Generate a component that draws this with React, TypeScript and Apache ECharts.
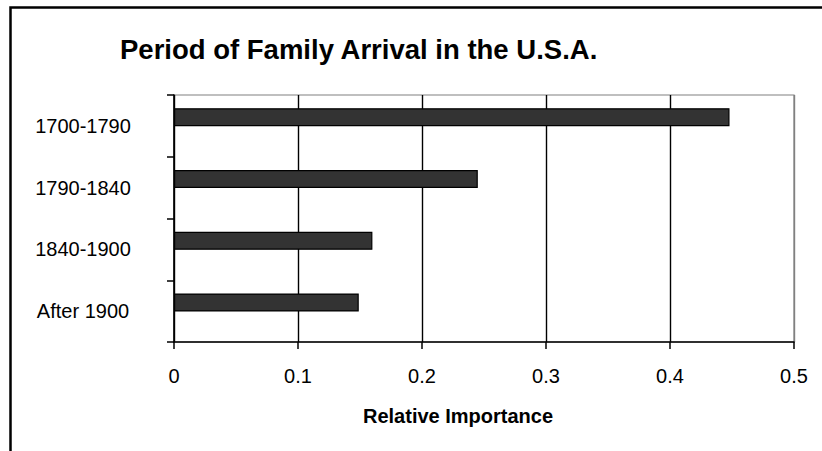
import React, { useEffect, useRef } from "react";
import * as echarts from "echarts";

const categories = ["1700-1790", "1790-1840", "1840-1900", "After 1900"];
const importance = [0.448, 0.245, 0.16, 0.149];
const spacer = ["-", "-", "-", "-"];
const xTicks = { min: 0, max: 0.5, interval: 0.1 };
const titleText = "Period of Family Arrival in the U.S.A.";
const xAxisTitle = "Relative Importance";

const FONT = "'Liberation Sans', Arial, Helvetica, sans-serif";

export default function App() {
  const ref = useRef<HTMLDivElement>(null);
  useEffect(() => {
    if (!ref.current) return;
    const chart = echarts.init(ref.current, null, { renderer: "svg" });
    chart.setOption({
      animation: false,
      backgroundColor: "#ffffff",
      textStyle: { fontFamily: FONT },
      title: {
        text: titleText,
        left: 120,
        top: 35,
        padding: 0,
        textStyle: { fontFamily: FONT, fontSize: 27.5, fontWeight: "bold", color: "#000" },
      },
      graphic: [
        {
          type: "rect",
          shape: { x: 10.5, y: 7.5, width: 900, height: 600 },
          style: { fill: "none", stroke: "#000", lineWidth: 2.5 },
          silent: true,
        },
      ],
      grid: {
        left: 174,
        right: 28,
        top: 95,
        bottom: 109,
        show: true,
        borderColor: "#808080",
        borderWidth: 1.2,
        backgroundColor: "transparent",
      },
      xAxis: {
        type: "value",
        min: xTicks.min,
        max: xTicks.max,
        interval: xTicks.interval,
        name: xAxisTitle,
        nameLocation: "middle",
        nameGap: 64,
        nameTextStyle: {
          fontFamily: FONT,
          fontSize: 20,
          fontWeight: "bold",
          color: "#000",
          padding: [0, 52, 0, 0],
        },
        axisLine: { show: true, lineStyle: { color: "#000", width: 1.5 } },
        axisTick: { show: true, length: 7, lineStyle: { color: "#000", width: 1.5 } },
        axisLabel: {
          fontFamily: FONT,
          fontSize: 20,
          color: "#000",
          margin: 24,
          formatter: (v: number) => String(Math.round(v * 10) / 10),
        },
        splitLine: {
          show: true,
          lineStyle: {
            color: ["#000", "#000", "#000", "#000", "#000", "#808080"],
            width: 1.4,
          },
        },
      },
      yAxis: {
        type: "category",
        data: categories,
        inverse: true,
        axisLine: { show: true, lineStyle: { color: "#000", width: 1.5 } },
        axisTick: { show: true, length: 7, lineStyle: { color: "#000", width: 1.5 } },
        axisLabel: {
          fontFamily: FONT,
          fontSize: 20,
          color: "#000",
          align: "center",
          margin: 91,
          padding: [8, 0, 0, 0],
        },
        splitLine: { show: false },
      },
      series: [
        {
          name: "Relative Importance",
          type: "bar",
          data: importance,
          barWidth: 18,
          barGap: "-4%",
          itemStyle: { color: "#333333", borderColor: "#000", borderWidth: 1.2 },
        },
        {
          name: "spacer",
          type: "bar",
          data: spacer,
          barWidth: 18,
          silent: true,
          itemStyle: { color: "transparent" },
        },
      ],
    });
    return () => chart.dispose();
  }, []);
  return (
    <div
      ref={ref}
      style={{ position: "fixed", left: 0, top: 0, width: 822, height: 451, background: "#fff" }}
    />
  );
}
